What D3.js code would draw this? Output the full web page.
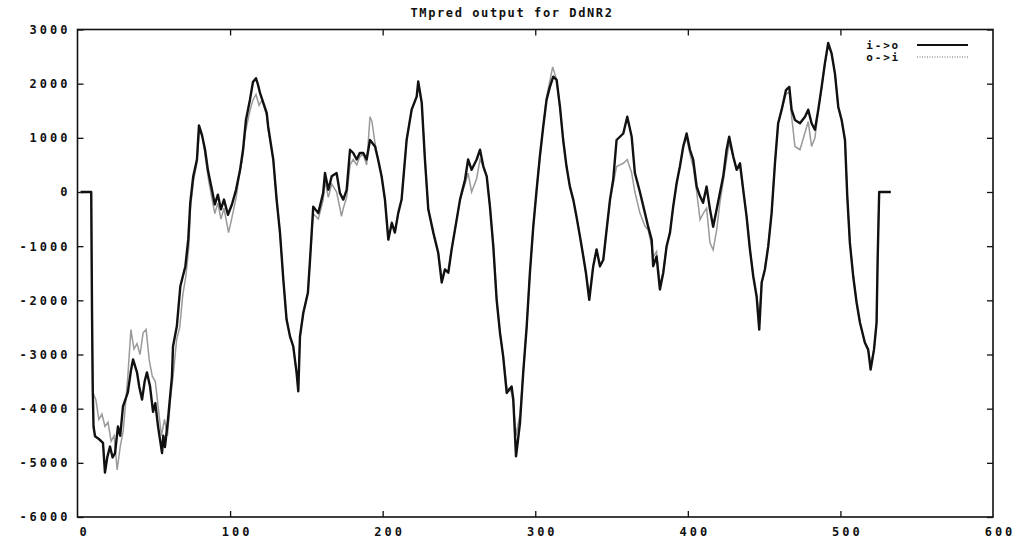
<!DOCTYPE html>
<html>
<head>
<meta charset="utf-8">
<script src="https://cdn.jsdelivr.net/npm/d3@7"></script>
<style>
  body { margin: 0; background: #fff; }
  svg { display: block; }
  .lbl { font-family: "DejaVu Sans Mono", monospace; font-weight: bold; font-size: 12px; fill: #111; }
</style>
</head>
<body>
<svg id="chart" width="1017" height="546"></svg>
<script>
// TMpred profile, residue position vs score
var title = "TMpred output for DdNR2";
var seriesNames = ["i->o", "o->i"];
var xTicks = [0, 100, 200, 300, 400, 500, 600];
var yTicks = [-6000, -5000, -4000, -3000, -2000, -1000, 0, 1000, 2000, 3000];

// i->o (black)
var inOut = [[2,0],[9,0],[9.5,-2170],[10,-3650],[10.5,-4330],[11.5,-4510],[14,-4560],[16.7,-4630],[18,-5180],[19.5,-4900],
  [21.3,-4700],[23,-4900],[24.6,-4820],[26.5,-4330],[28,-4500],[29.8,-3960],[33,-3700],[35,-3300],[36.4,-3090],[39,-3330],
  [40.5,-3600],[42.3,-3830],[44,-3500],[45.5,-3330],[47.5,-3580],[49.5,-4060],[51,-3900],[52.8,-4330],[55.4,-4820],[56.2,-4500],
  [57.3,-4710],[59.3,-4200],[61.9,-3410],[62.6,-2850],[65.1,-2480],[67.4,-1740],[70.7,-1370],[72.6,-870],[73.9,-200],[75.8,280],
  [78.3,600],[79.6,1230],[81.6,1050],[83.6,780],[85.5,400],[88.1,40],[90,-230],[92,-50],[94,-320],[96,-140],
  [98.6,-420],[101.2,-230],[103.9,40],[106.5,400],[108.5,780],[110.4,1330],[113,1700],[115,2030],[117,2100],[118.3,1980],
  [119.6,1830],[124,1460],[125,1200],[128.3,600],[130.5,-140],[132.7,-750],[134.9,-1620],[137,-2350],[139.3,-2670],[141.4,-2850],
  [143.6,-3340],[144.7,-3680],[145.8,-2670],[148,-2230],[151,-1860],[152.4,-1250],[154.5,-270],[157.8,-390],[161,-20],[162.2,350],
  [164.4,40],[166.6,290],[169.8,350],[172,-20],[174.2,-140],[176.4,40],[178.6,780],[180.7,720],[183,600],[185,720],
  [187.3,720],[189.5,600],[191.7,960],[195,840],[197,600],[199.3,290],[201.5,-140],[203.7,-880],[206,-570],[208,-750],
  [210.2,-390],[212.4,-140],[215.7,960],[219,1520],[222.3,1760],[223.3,2040],[225.6,1650],[227.7,600],[229.9,-320],[233.2,-750],
  [236.4,-1120],[238.7,-1670],[240.8,-1430],[243,-1490],[245.2,-1060],[248.5,-510],[250.7,-140],[254,230],[256,600],[258.3,410],
  [261.6,600],[263.8,780],[266,470],[268.2,290],[270.3,-270],[272.5,-1000],[274.7,-1990],[276.9,-2600],[279,-3040],[281.3,-3710],
  [284.5,-3590],[285.6,-3830],[287.4,-4880],[290,-4260],[292.1,-3340],[294.4,-2480],[296.5,-1490],[298.7,-640],[300.9,40],[303,650],
  [305.2,1200],[307.4,1700],[309.6,1940],[311.8,2130],[314,2070],[316.2,1570],[318.3,960],[320.5,470],[322.7,100],[324.9,-140],
  [327,-450],[329.3,-820],[331.5,-1190],[333.2,-1490],[335.4,-1990],[338,-1370],[340.2,-1060],[342.4,-1370],[344.6,-1250],[346.8,-690],
  [349,-140],[351.1,230],[353.3,960],[355.5,1020],[357.7,1080],[360.3,1390],[363.2,1020],[365.3,350],[368.6,0],[371.9,-390],
  [374,-640],[376.3,-880],[377.3,-1370],[379.5,-1190],[381.7,-1800],[383.9,-1490],[386.1,-1000],[388.3,-750],[390.4,-270],[392.7,170],
  [394.8,470],[397,840],[399.2,1080],[401.4,780],[403.5,600],[405.8,100],[408,-80],[410,-200],[412.3,100],[414.5,-320],
  [416.6,-640],[418.9,-320],[421,-20],[423.2,290],[425.4,780],[427.1,1020],[429.8,650],[432,410],[434.2,530],[436.3,40],
  [438.5,-450],[440.7,-1060],[442.9,-1560],[445.1,-1930],[446.8,-2540],[448.4,-1670],[450.5,-1430],[452.7,-1000],[454.9,-390],[457.1,530],
  [459.2,1270],[461.5,1520],[464.3,1880],[466.5,1940],[468,1520],[470.2,1330],[473.5,1270],[476.8,1390],[478.9,1520],[481.1,1270],
  [483.3,1150],[485.5,1520],[487.7,1940],[489.8,2370],[492,2750],[494.2,2560],[496.4,2190],[498.6,1570],[500.8,1330],[503,960],
  [504.5,-80],[506.2,-940],[508.4,-1560],[510.6,-2040],[512.8,-2410],[516,-2780],[518.2,-2910],[519.8,-3280],[522,-2910],[523.7,-2410],
  [524.4,-1250],[525.4,0],[533,0]];

// o->i (grey)
var outIn = [[2,0],[9,0],[9.5,-2500],[10,-3700],[12,-3830],[14,-4200],[16,-4100],[18,-4330],[20,-4250],[22,-4600],
  [24,-4500],[26,-5130],[28,-4700],[30,-4400],[33,-3400],[35,-2540],[37,-2900],[39,-2800],[41,-3000],[43,-2600],
  [45,-2540],[47,-3100],[49,-3400],[51,-3500],[53,-4000],[55,-4500],[57,-4200],[59,-4500],[61,-3800],[63,-3300],
  [65,-2720],[67,-2500],[69,-1900],[71,-1560],[73,-1000],[74,-300],[76,200],[78,500],[80,1150],[82,1000],
  [84,600],[86,200],[88,-100],[90,-400],[92,-200],[94,-500],[96,-300],[99,-750],[101,-500],[104,-100],
  [106,300],[108,600],[110,1100],[113,1500],[115,1700],[117,1800],[119,1600],[121,1700],[124,1400],[125,1150],
  [128.3,600],[130.5,-140],[132.7,-750],[134.9,-1620],[137,-2350],[139.3,-2670],[141.4,-2850],[143.6,-3340],[144.7,-3500],[145.8,-2670],
  [148,-2230],[151,-1860],[152.4,-1250],[154.5,-400],[157.8,-500],[161,-150],[162.2,200],[164.4,-100],[166.6,150],[169.8,0],
  [172,-300],[173,-450],[174.2,-300],[176.4,-100],[178.6,500],[180.7,600],[183,500],[185,650],[187.3,700],[189.5,500],
  [191.7,1390],[193,1300],[195,900],[197,600],[199.3,290],[201.5,-140],[203.7,-880],[206,-570],[208,-750],[210.2,-390],
  [212.4,-140],[215.7,960],[219,1520],[222.3,1760],[223.3,1950],[225.6,1650],[227.7,600],[229.9,-320],[233.2,-750],[236.4,-1120],
  [238.7,-1600],[240.8,-1430],[243,-1490],[245.2,-1060],[248.5,-510],[250.7,-140],[254,150],[256,350],[258.3,0],[261.6,250],
  [263.8,600],[266,470],[268.2,290],[270.3,-270],[272.5,-1000],[274.7,-1990],[276.9,-2600],[279,-3040],[281.3,-3600],[284.5,-3700],
  [285.6,-3900],[287.4,-4500],[290,-4100],[292.1,-3340],[294.4,-2480],[296.5,-1490],[298.7,-640],[300.9,40],[303,650],[305.2,1200],
  [307.4,1750],[309.6,2050],[311.4,2310],[314,2070],[316.2,1570],[318.3,960],[320.5,470],[322.7,100],[324.9,-140],[327,-450],
  [329.3,-820],[331.5,-1190],[333.2,-1490],[335.4,-1900],[338,-1370],[340.2,-1060],[342.4,-1370],[344.6,-1250],[346.8,-690],[349,-140],
  [351.1,150],[353.3,470],[355.5,500],[357.7,530],[360.3,600],[363.2,350],[365.3,0],[368.6,-390],[371.9,-630],[374,-700],
  [376.3,-1000],[377.3,-1200],[379.5,-1100],[381.7,-1700],[383.9,-1490],[386.1,-1000],[388.3,-750],[390.4,-270],[392.7,170],[394.8,470],
  [397,840],[399.2,1000],[401.4,700],[403.5,470],[405.8,0],[408,-510],[410,-400],[412.3,-300],[414.5,-940],[416.6,-1070],
  [418.9,-700],[421,-200],[423.2,200],[425.4,600],[427.1,900],[429.8,650],[432,410],[434.2,450],[436.3,40],[438.5,-450],
  [440.7,-1060],[442.9,-1560],[445.1,-1930],[446.8,-2300],[448.4,-1670],[450.5,-1430],[452.7,-1000],[454.9,-390],[457.1,530],[459.2,1270],
  [461.5,1520],[464.3,1800],[466.5,1850],[468,1400],[470.2,840],[473.5,780],[476.8,1100],[478.9,1300],[481.1,840],[483.3,1000],
  [485.5,1500],[487.7,1940],[489.8,2370],[492,2700],[494.2,2560],[496.4,2190],[498.6,1570],[500.8,1330],[503,960],[504.5,-80],
  [506.2,-940],[508.4,-1560],[510.6,-2040],[512.8,-2410],[516,-2780],[518.2,-2910],[519.8,-3200],[522,-2910],[523.7,-2410],[524.4,-1250],
  [525.4,0],[533,0]];

var svg = d3.select("#chart");
var x = d3.scaleLinear().domain([0, 600]).range([77.5, 993]);
var y = d3.scaleLinear().domain([-6000, 3000]).range([517, 29.5]);

var line = d3.line()
    .x(function (d) { return x(d[0]); })
    .y(function (d) { return y(d[1]); });

// axes, ticks pointing inward
var axLeft = svg.append("g").attr("transform", "translate(" + x(0) + ",0)")
    .call(d3.axisLeft(y).tickValues(yTicks).tickSize(-6).tickPadding(7).tickFormat(d3.format("d")));
var axRight = svg.append("g").attr("transform", "translate(" + x(600) + ",0)")
    .call(d3.axisRight(y).tickValues(yTicks).tickSize(-6).tickFormat(""));
var axBottom = svg.append("g").attr("transform", "translate(0," + y(-6000) + ")")
    .call(d3.axisBottom(x).tickValues(xTicks).tickSize(-6).tickPadding(10));
var axTop = svg.append("g").attr("transform", "translate(0," + y(3000) + ")")
    .call(d3.axisTop(x).tickValues(xTicks).tickSize(-6).tickFormat(""));

[axLeft, axRight, axBottom, axTop].forEach(function (g) {
    g.select(".domain").remove();
    g.selectAll(".tick line").attr("stroke", "#111").attr("stroke-width", 1.3);
});
axLeft.attr("font-size", null).attr("font-family", null);
axBottom.attr("font-size", null).attr("font-family", null);
axLeft.selectAll("text").attr("class", "lbl")
    .style("letter-spacing", "3px").text(function (d) { return d; });
axBottom.selectAll("text").attr("class", "lbl")
    .style("letter-spacing", "3px").attr("dx", 6.5);
// the first and last tick marks sit on the frame corners
axBottom.selectAll(".tick line").filter(function (d) { return d == 0 || d == 600; }).remove();
axTop.selectAll(".tick line").filter(function (d) { return d == 0 || d == 600; }).remove();

svg.append("rect")
    .attr("x", x(0)).attr("y", y(3000))
    .attr("width", x(600) - x(0)).attr("height", y(-6000) - y(3000))
    .attr("fill", "none").attr("stroke", "#111").attr("stroke-width", 1.6);

svg.append("path").datum(outIn)
    .attr("d", line).attr("fill", "none")
    .attr("stroke", "#9a9a9a").attr("stroke-width", 1.5);
svg.append("path").datum(inOut)
    .attr("d", line).attr("fill", "none")
    .attr("stroke", "#111").attr("stroke-width", 2.4).attr("stroke-linejoin", "round");

svg.append("text").attr("class", "lbl")
    .attr("x", 512).attr("y", 17).attr("text-anchor", "middle")
    .style("letter-spacing", "1.6px").text(title);

// legend
var legend = svg.append("g");
var styles = [{ stroke: "#111", width: 2.2, dash: null }, { stroke: "#9a9a9a", width: 1.3, dash: "1,1.5" }];
seriesNames.forEach(function (name, i) {
    var ly = 45 + i * 12;
    legend.append("text").attr("class", "lbl")
        .attr("x", 900).attr("y", ly + 4).attr("text-anchor", "end")
        .style("font-size", "11px").style("letter-spacing", "1.8px").text(name);
    legend.append("line")
        .attr("x1", 917).attr("x2", 968).attr("y1", ly).attr("y2", ly)
        .attr("stroke", styles[i].stroke).attr("stroke-width", styles[i].width)
        .attr("stroke-dasharray", styles[i].dash);
});
</script>
</body>
</html>
